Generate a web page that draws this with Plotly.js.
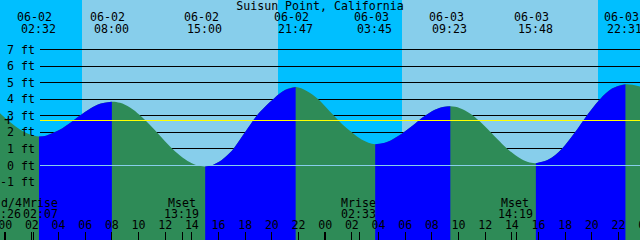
<!DOCTYPE html>
<html><head><meta charset="utf-8">
<script src="https://cdn.plot.ly/plotly-3.0.1.min.js"></script>
<style>
html,body{margin:0;padding:0;background:#00bfff;overflow:hidden;}
#chart{width:640px;height:240px;}
.shapelayer path{shape-rendering:crispEdges;}
</style></head><body><div id="chart"></div>
<script>
// ---------- data (hours counted from 06-02 00:00) ----------
const stationTitle = 'Suisun Point, California';
const extremeHours = [2.533, 8.0, 15.0, 21.783, 27.75, 33.383, 39.8, 46.517];
const extremeDates = ['06-02','06-02','06-02','06-02','06-03','06-03','06-03','06-03'];
const extremeTimes = ['02:32','08:00','15:00','21:47','03:45','09:23','15:48','22:31'];
const extremeFeet  = [1.75, 3.85, -0.06, 4.73, 1.28, 3.57, 0.14, 4.9];

const curveHours = [-0.41, 0.36, 1.11, 1.86,
  3.06, 3.61, 4.26, 4.86, 5.61, 6.36, 7.11,
  8.61, 9.36, 10.11, 10.86, 11.61, 12.36, 13.11, 13.86, 14.385,
  15.61, 16.11, 16.635, 17.11, 17.985, 18.86, 19.485, 20.16, 20.985,
  22.61, 23.48, 24.06, 24.61, 25.26, 25.99, 26.76,
  28.635, 29.74, 30.61, 31.24, 31.86, 32.61,
  34.11, 34.86, 35.61, 36.36, 36.96, 37.61, 38.61, 39.21,
  40.71, 41.74, 42.735, 43.61, 44.61, 45.51,
  47.62];
const curveFeet = [3.17, 2.62, 2.17, 1.87,
  1.8, 1.97, 2.23, 2.56, 3.01, 3.42, 3.72,
  3.78, 3.5, 3.03, 2.44, 1.79, 1.15, 0.6, 0.19, 0.01,
  0.05, 0.25, 0.6, 1.0, 2.0, 3.0, 3.55, 4.05, 4.55,
  4.5, 4.0, 3.52, 3.04, 2.5, 2.0, 1.55,
  1.42, 1.92, 2.44, 2.86, 3.2, 3.48,
  3.46, 3.14, 2.65, 2.05, 1.55, 1.04, 0.43, 0.21,
  0.34, 1.0, 2.0, 3.0, 4.0, 4.64,
  4.76];

const sunriseHours = [5.73, 29.73];
const sunsetHours  = [20.44, 44.48];

const moonEventHours = [2.117, 13.317, 26.55, 38.317];
const moonEventNames = ['Mrise', 'Mset', 'Mrise', 'Mset'];
const moonEventTimes = ['02:07', '13:19', '02:33', '14:19'];
const phaseName = 'd/4';
const phaseTime = ':26';

const levelValues = [7, 6, 5, 4, 3, 2, 1, 0, -1];
const levelLabels = ['7 ft', '6 ft', '5 ft', '4 ft', '3 ft', '2 ft', '1 ft', '0 ft', '-1 ft'];
const meanLevel = 2.72;

const hourTickHours = [0,2,4,6,8,10,12,14,16,18,20,22,24,26,28,30,32,34,36,38,40,42,44,46,48];
const hourTickLabels = ['00','02','04','06','08','10','12','14','16','18','20','22',
                        '00','02','04','06','08','10','12','14','16','18','20','22','00'];
const midnightHours = [0, 24];

// ---------- styles ----------
const NIGHT = '#00bfff', DAY = '#87ceeb', RISE = '#0000ff', FALL = '#2e8b57';
const font = {family: 'DejaVu Sans Mono', size: 11.6, color: '#000'};
const BASE = -6;
const W = 640, H = 240;

const pts = curveHours.map((h, i) => [h, curveFeet[i]])
  .concat(extremeHours.map((h, i) => [h, extremeFeet[i]]))
  .sort((a, b) => a[0] - b[0]);
const allX = pts.map(p => p[0]), allY = pts.map(p => p[1]);

const traces = [];
traces.push({x: [allX[0], allX[allX.length - 1]], y: [BASE, BASE], mode: 'lines',
  line: {width: 0}, hoverinfo: 'skip'});
traces.push({x: allX, y: allY, mode: 'lines', line: {width: 0, shape: 'spline', smoothing: 1},
  fill: 'tonexty', fillcolor: FALL, hoverinfo: 'skip'});
for (let i = 0; i < extremeHours.length - 1; i++) {
  if (extremeFeet[i + 1] > extremeFeet[i]) {
    const a = extremeHours[i], b = extremeHours[i + 1];
    const seg = pts.filter(p => p[0] >= a && p[0] <= b);
    traces.push({x: [a, b], y: [BASE, BASE], mode: 'lines', line: {width: 0}, hoverinfo: 'skip'});
    traces.push({x: seg.map(p => p[0]), y: seg.map(p => p[1]), mode: 'lines',
      line: {width: 0, shape: 'spline', smoothing: 1}, fill: 'tonexty', fillcolor: RISE, hoverinfo: 'skip'});
  }
}
// hour labels along the bottom
traces.push({x: hourTickHours, y: hourTickHours.map(() => 226), yaxis: 'y2', mode: 'text',
  text: hourTickLabels, textfont: font, textposition: 'middle center', hoverinfo: 'skip'});

const shapes = [];
for (let i = 0; i < sunriseHours.length; i++) {
  shapes.push({type: 'rect', layer: 'below', xref: 'x', yref: 'paper',
    x0: sunriseHours[i], x1: sunsetHours[i], y0: 0, y1: 1, fillcolor: DAY, line: {width: 0}});
}
levelValues.forEach(v => {
  if (v !== 0) shapes.push({type: 'line', layer: 'below', xref: 'paper', yref: 'y',
    x0: 40 / W, x1: 1, y0: v, y1: v, line: {color: '#000', width: 1}});
});
shapes.push({type: 'line', layer: 'above', xref: 'paper', yref: 'y',
  x0: 40 / W, x1: 1, y0: 0, y1: 0, line: {color: DAY, width: 1}});
shapes.push({type: 'line', layer: 'above', xref: 'paper', yref: 'y',
  x0: 40 / W, x1: 1, y0: meanLevel, y1: meanLevel, line: {color: '#ffff00', width: 1}});
midnightHours.forEach(h => shapes.push({type: 'line', layer: 'above', xref: 'x', yref: 'paper',
  x0: h, x1: h, y0: 0, y1: 8 / H, line: {color: '#000', width: 2}}));
moonEventHours.forEach(h => shapes.push({type: 'line', layer: 'above', xref: 'x', yref: 'paper',
  x0: h, x1: h, y0: 0, y1: 8 / H, line: {color: '#000', width: 1}}));

const ann = [];
extremeHours.forEach((h, i) => {
  ann.push({xref: 'x', yref: 'paper', x: h, y: 1 - 17.5 / H, xshift: -4, text: extremeDates[i],
    showarrow: false, font: font, xanchor: 'center', yanchor: 'middle'});
  ann.push({xref: 'x', yref: 'paper', x: h, y: 1 - 29.2 / H, xshift: -0.5, text: extremeTimes[i],
    showarrow: false, font: font, xanchor: 'center', yanchor: 'middle'});
});
levelValues.forEach((v, i) => ann.push({xref: 'paper', yref: 'y', x: 37 / W, y: v, text: levelLabels[i],
  showarrow: false, font: font, xanchor: 'right', yanchor: 'middle'}));
ann.push({xref: 'paper', yref: 'y', x: 8 / W, y: meanLevel, text: '+', showarrow: false,
  font: {family: 'DejaVu Sans Mono', size: 15, color: '#000'}, xanchor: 'center', yanchor: 'middle'});
moonEventHours.forEach((h, i) => {
  const shift = i === 0 ? 8 : 0;   // first label is pushed right, clear of the phase label
  ann.push({xref: 'x', yref: 'y2', x: h, y: 202.5, xshift: shift - 1, text: moonEventNames[i],
    showarrow: false, font: font, xanchor: 'center', yanchor: 'middle'});
  ann.push({xref: 'x', yref: 'y2', x: h, y: 214, xshift: shift - 1, text: moonEventTimes[i],
    showarrow: false, font: font, xanchor: 'center', yanchor: 'middle'});
});
ann.push({xref: 'paper', yref: 'y2', x: -1 / W, y: 202.5, text: phaseName, showarrow: false,
  font: font, xanchor: 'left', yanchor: 'middle'});
ann.push({xref: 'paper', yref: 'y2', x: -2 / W, y: 214, text: phaseTime, showarrow: false,
  font: font, xanchor: 'left', yanchor: 'middle'});

const layout = {
  width: W, height: H, margin: {l: 0, r: 0, t: 0, b: 0, pad: 0},
  paper_bgcolor: NIGHT, plot_bgcolor: NIGHT, showlegend: false,
  title: {text: stationTitle, font: font, x: 0.5, xanchor: 'center', xref: 'paper',
    y: 1 - 5.5 / H, yref: 'container', yanchor: 'middle'},
  xaxis: {range: [-0.39, 47.61], showgrid: false, zeroline: false, showline: false,
    ticks: 'inside', tickmode: 'linear', tick0: 0, dtick: 2, ticklen: 8, tickwidth: 1,
    tickcolor: '#000', showticklabels: false, fixedrange: true},
  yaxis: {range: [-4.496, 9.987], visible: false, showgrid: false, zeroline: false, fixedrange: true},
  yaxis2: {range: [240, 0], overlaying: 'y', visible: false, fixedrange: true},
  shapes: shapes, annotations: ann
};
Plotly.newPlot('chart', traces, layout, {staticPlot: true, displayModeBar: false});
</script></body></html>
